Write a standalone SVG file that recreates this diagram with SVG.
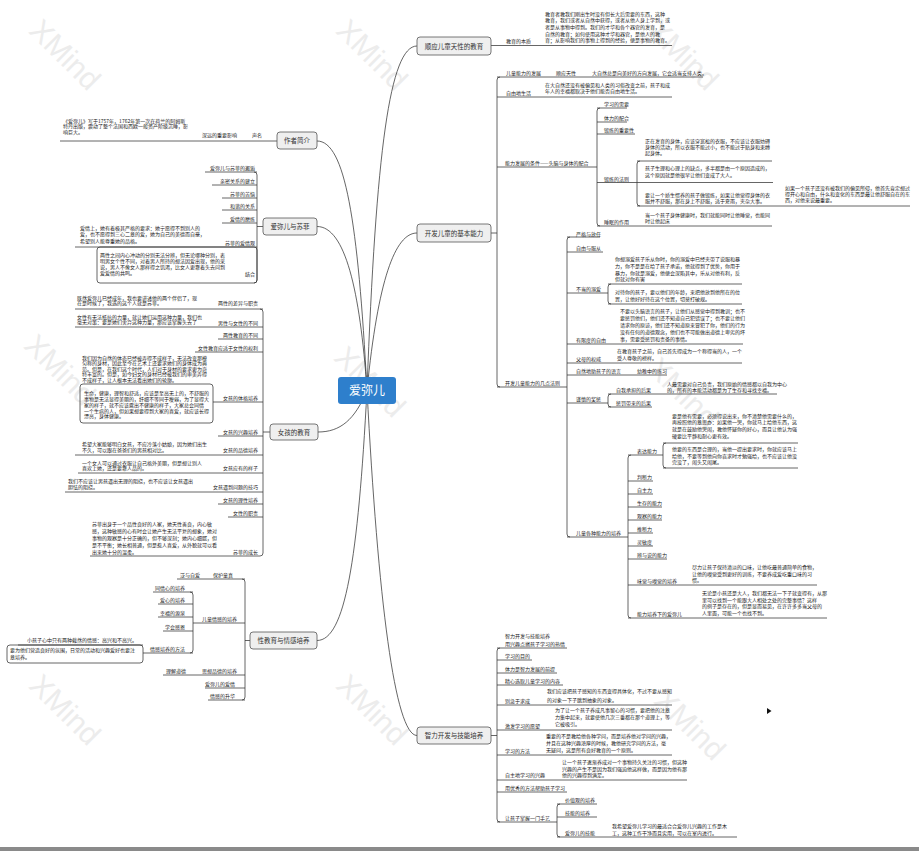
<svg xmlns="http://www.w3.org/2000/svg" width="919" height="851" viewBox="0 0 919 851">
<style>
.s{font-family:"Noto Sans CJK SC","Noto Sans",sans-serif;font-size:5px;fill:#1a1a1a}
.e{text-anchor:end}
.m{font-size:6.5px;fill:#333;text-anchor:middle}
.c{font-size:12px;fill:#fff;text-anchor:middle}
.k{fill:none;stroke:#333;stroke-width:.75}
.b{fill:#efefef;stroke:#555;stroke-width:.8}
.w{font-family:"Liberation Sans",sans-serif;font-size:30px;fill:#ececec}
</style>
<rect width="919" height="851" fill="#fff"/>
<g id="watermark">
<text class="w" transform="translate(65,55) rotate(45)" text-anchor="middle" dy="10">XMind</text>
<text class="w" transform="translate(372,55) rotate(45)" text-anchor="middle" dy="10">XMind</text>
<text class="w" transform="translate(683,55) rotate(45)" text-anchor="middle" dy="10">XMind</text>
<text class="w" transform="translate(60,370) rotate(45)" text-anchor="middle" dy="10">XMind</text>
<text class="w" transform="translate(370,382) rotate(45)" text-anchor="middle" dy="10">XMind</text>
<text class="w" transform="translate(683,393) rotate(45)" text-anchor="middle" dy="10">XMind</text>
<text class="w" transform="translate(65,710) rotate(45)" text-anchor="middle" dy="10">XMind</text>
<text class="w" transform="translate(372,710) rotate(45)" text-anchor="middle" dy="10">XMind</text>
<text class="w" transform="translate(690,725) rotate(45)" text-anchor="middle" dy="10">XMind</text>
</g>
<g id="connectors" class="k">
<path d="M367,390 C358,220 345,141 317,141"/>
<path d="M367,390 C360,290 345,226.5 317,226.5"/>
<path d="M367,390 C355,420 340,432 318,432"/>
<path d="M367,390 C358,560 345,640.5 317,640.5"/>
<path d="M367,390 C376,150 390,46 417,46"/>
<path d="M367,390 C378,280 395,233 417,233"/>
<path d="M367,390 C378,600 395,735.5 417,735.5"/>
<path d="M277,141 L60,141"/>
<path d="M263,226.5 L257,226.5"/>
<path d="M254,172 Q257,172 257,175 L257,280 Q257,283 254,283"/>
<path d="M205,172 L257,172 M212,185 L257,185 M222,198 L257,198 M222,210 L257,210 M222,223 L257,223 M75,247 L257,247"/>
<rect x="97" y="247" width="160" height="36" rx="3"/>
<path d="M270,432 L263,432"/>
<path d="M260,309 Q263,309 263,312 L263,553 Q263,556 260,556"/>
<path d="M75,309 L263,309 M75,327 L263,327 M218,339 L263,339 M195,352 L263,352 M213,402 L263,402 M218,436 L263,436 M75,455 L263,455 M78,473 L263,473 M65,492 L263,492 M218,504 L263,504 M228,517 L263,517 M90,556 L260,556"/>
<rect x="80" y="384" width="133" height="39" rx="3"/>
<path d="M250,640.5 L245,640.5"/>
<path d="M242,579 Q245,579 245,582 L245,697 Q245,700 242,700"/>
<path d="M177,579 L245,579 M193,623 L245,623 M163,675 L245,675 M205,688 L245,688 M208,700 L245,700"/>
<path d="M190,592 Q193,592 193,595 L193,650 Q193,653 190,653"/>
<path d="M153,592 L193,592 M158,604 L193,604 M158,617 L193,617 M163,631 L193,631 M143,653 L193,653"/>
<path d="M18,645 L143,645"/>
<rect x="7" y="645" width="136" height="18" rx="3"/>
<path d="M491,45.5 L672,45.5"/>
<path d="M491,233 L497,233"/>
<path d="M500,77 Q497,77 497,80 L497,384 Q497,387 500,387"/>
<path d="M497,77 L703,77 M497,97 L672,97 M497,167 L597,167 M497,387 L567,387"/>
<path d="M600,108 Q597,108 597,111 L597,223 Q597,226 600,226"/>
<path d="M597,108 L627,108 M597,122 L627,122 M597,134 L635,134 M597,182.5 L637,182.5 M597,226 L772,226"/>
<path d="M640,161 Q637,161 637,164 L637,203 Q637,206 640,206"/>
<path d="M637,161 L772,161 M637,182.5 L773,182.5 M637,206 L910,206"/>
<path d="M570,237 Q567,237 567,240 L567,534 Q567,537 570,537"/>
<path d="M567,237 L600,237 M567,252 L603,252 M567,293 L608,293 M567,344 L743,344 M567,363 L742,363 M567,375 L667,375 M567,403 L608,403 M567,537 L628,537"/>
<path d="M611,284 Q608,284 608,287 L608,301 Q608,304 611,304"/>
<path d="M608,284 L742,284 M608,304 L742,304"/>
<path d="M611,394 Q608,394 608,397 L608,404 Q608,407 611,407"/>
<path d="M608,394 L777,394 M608,407 L652,407"/>
<path d="M631,455 Q628,455 628,458 L628,615 Q628,618 631,618"/>
<path d="M628,455 L663,455 M628,481 L653,481 M628,494 L653,494 M628,507 L662,507 M628,520 L662,520 M628,533 L653,533 M628,546 L653,546 M628,559 L667,559 M628,585 L817,585 M628,618 L827,618"/>
<path d="M666,443 Q663,443 663,446 L663,465 Q663,468 666,468"/>
<path d="M663,443 L798,443 M663,468 L798,468"/>
<path d="M491,735.5 L497,735.5"/>
<path d="M500,648 Q497,648 497,651 L497,819 Q497,822 500,822"/>
<path d="M497,648 L567,648 M497,660 L532,660 M497,673 L557,673 M497,685 L563,685 M497,705 L672,705 M497,730 L672,730 M497,755 L672,755 M497,780 L687,780 M497,792 L567,792 M497,822 L557,822"/>
<path d="M560,804 Q557,804 557,807 L557,834 Q557,837 560,837"/>
<path d="M557,804 L597,804 M557,817 L597,817 M557,837 L737,837"/>
</g>
<g id="n-center"><rect x="338" y="377" width="58" height="27" rx="3" fill="#2e7fcc"/><text class="s c" x="367" y="395">爱弥儿</text></g>
<g id="n-author"><rect class="b" x="277" y="132" width="40" height="17" rx="3"/><text class="s m" x="297" y="143">作者简介</text></g>
<g id="n-author-1"><text class="s" x="252" y="137">声名</text></g>
<g id="n-author-2"><text class="s" x="202" y="137">深远的重要影响</text></g>
<g id="n-author-3"><text class="s"><tspan x="63" y="122.5">《爱弥儿》写于1757年，1762年第一次在荷兰的阿姆斯</tspan><tspan x="63" y="128">特丹出版，震动了整个法国和西欧一般资产阶级沉睡，影</tspan><tspan x="63" y="133.5">响巨大。</tspan></text></g>
<g id="n-sophie"><rect class="b" x="263" y="218" width="54" height="17" rx="3"/><text class="s m" x="290" y="229">爱弥儿与苏菲</text></g>
<g id="n-sophie-1"><text class="s e" x="255" y="170">爱弥儿与苏菲的邂逅</text></g>
<g id="n-sophie-2"><text class="s e" x="255" y="183">亲密关系的建立</text></g>
<g id="n-sophie-3"><text class="s e" x="255" y="196">苏菲的苦恼</text></g>
<g id="n-sophie-4"><text class="s e" x="255" y="208">和谐的关系</text></g>
<g id="n-sophie-5"><text class="s e" x="255" y="221">爱情的磨炼</text></g>
<g id="n-sophie-6"><text class="s e" x="255" y="245">苏菲的爱情观</text></g>
<g id="n-sophie-6a"><text class="s"><tspan x="80" y="230">爱情上，她有着极其严格的要求：她宁愿得不到别人的</tspan><tspan x="80" y="236.3">爱，也不愿得到三心二意的爱，她为自己的美德而自豪，</tspan><tspan x="80" y="242.6">希望别人能尊重她的品格。</tspan></text></g>
<g id="n-sophie-7"><text class="s e" x="255" y="276">结合</text></g>
<g id="n-sophie-7a"><text class="s"><tspan x="100" y="256.7">两性之间内心冲动的分别无法分辨，但无论哪种分别，表</tspan><tspan x="100" y="262.7">明男女个性不同，对着男人所持的想法因爱出现，他的采</tspan><tspan x="100" y="269">说，男人不像女人那样得之饥渴，比女人更靠着头去问到</tspan><tspan x="100" y="275">爱爱情的共鸣。</tspan></text></g>
<g id="n-girl"><rect class="b" x="270" y="424" width="48" height="16" rx="3"/><text class="s m" x="294" y="434.5">女孩的教育</text></g>
<g id="n-girl-1"><text class="s e" x="258" y="305">两性的差异与职责</text></g>
<g id="n-girl-1a"><text class="s"><tspan x="77" y="299.5">既然爱弥儿已经成年，我也要讲述他的两个伴侣了，现</tspan><tspan x="77" y="305">在是时候了，我选的这个人就是苏菲。</tspan></text></g>
<g id="n-girl-2"><text class="s e" x="258" y="324.5">男性与女性的不同</text></g>
<g id="n-girl-2a"><text class="s"><tspan x="77" y="318.5">女性有无法抵抗的力量，就让她们运用这种力量，我们也</tspan><tspan x="77" y="324">毫无对策：要是她们舍弃这种力量，那应该掌握头去了</tspan></text></g>
<g id="n-girl-3"><text class="s e" x="258" y="337">两性教育的不同</text></g>
<g id="n-girl-4"><text class="s e" x="258" y="349.5">女性教育应适于女性的权利</text></g>
<g id="n-girl-5"><text class="s e" x="258" y="400">女孩的体格培养</text></g>
<g id="n-girl-5a"><text class="s"><tspan x="82" y="359.5">我们因为自然的体态已经被弄得不成样子，无法改变那模</tspan><tspan x="82" y="365">匀称的身材，因此至今在艺术上还要求她们的身体成为典</tspan><tspan x="82" y="370.7">范。但是，在我们这个时代，人们对于身材的要求更为奇</tspan><tspan x="82" y="376">特丰富的。但是，如今妇女的身材已经被我们的审美弄得</tspan><tspan x="82" y="382">不成样子，让人根本无法看出她们的轮廓。</tspan></text></g>
<g id="n-girl-5b"><text class="s"><tspan x="84" y="395">生命，健康，理智和舒适，应该是至高无上的，不舒服的</tspan><tspan x="84" y="400.7">事物是无法显得美丽的，纤细不等同于瘦弱，为了显得大</tspan><tspan x="84" y="406.7">家的样子，就不应该露出不健康的样子，大家总会同情</tspan><tspan x="84" y="412.7">一个生病的人，但如果想要得到大家的喜爱，就应该长得</tspan><tspan x="84" y="418.4">漂亮，身体健康。</tspan></text></g>
<g id="n-girl-6"><text class="s e" x="258" y="433.5">女孩的兴趣培养</text></g>
<g id="n-girl-7"><text class="s e" x="258" y="452">女孩的品德培养</text></g>
<g id="n-girl-7a"><text class="s"><tspan x="82" y="446">希望大家能够明白女孩，不应冷落小姑娘，因为她们出生</tspan><tspan x="82" y="452">不久，可以跟在爸爸们的男孩相对比。</tspan></text></g>
<g id="n-girl-8"><text class="s e" x="258" y="470">女孩应有的样子</text></g>
<g id="n-girl-8a"><text class="s"><tspan x="82" y="464.5">一个女人可以通过衣服让自己格外美丽，但是想让别人</tspan><tspan x="82" y="470">喜欢上她，还是要靠人品的。</tspan></text></g>
<g id="n-girl-9"><text class="s e" x="258" y="489">女孩遇到问题的技巧</text></g>
<g id="n-girl-9a"><text class="s"><tspan x="68" y="482.7">我们不应该让男孩遇出无理的阻挠，也不应该让女孩遇出</tspan><tspan x="68" y="488.5">胆怯的阻挠。</tspan></text></g>
<g id="n-girl-10"><text class="s e" x="258" y="502">女孩的理性培养</text></g>
<g id="n-girl-11"><text class="s e" x="258" y="514.5">女性的职责</text></g>
<g id="n-girl-12"><text class="s e" x="258" y="553.5">苏菲的成长</text></g>
<g id="n-girl-12a"><text class="s"><tspan x="92" y="525.7">苏菲出身于一个品性良好的人家，她天性善良，内心敏</tspan><tspan x="92" y="532.7">感，这种敏感的心有时会让她产生无法平复的想象，她对</tspan><tspan x="92" y="539.7">事物的观察是十分正确的，但不够深刻；她内心细腻，但</tspan><tspan x="92" y="546.7">是不平衡；她长相普通，但是惹人喜爱，从外貌就可以看</tspan><tspan x="92" y="553.5">出来她十分的温柔。</tspan></text></g>
<g id="n-sex"><rect class="b" x="250" y="632" width="67" height="17" rx="3"/><text class="s m" x="283.5" y="643">性教育与情感培养</text></g>
<g id="n-sex-1"><text class="s e" x="233" y="576.5">保护童真</text></g>
<g id="n-sex-1a"><text class="s" x="180" y="576.5">泛与自爱</text></g>
<g id="n-sex-2"><text class="s e" x="237" y="620.5">儿童情感的培养</text></g>
<g id="n-sex-2a"><text class="s e" x="185" y="589.5">同情心的培养</text></g>
<g id="n-sex-2b"><text class="s e" x="185" y="601.7">爱心的培养</text></g>
<g id="n-sex-2c"><text class="s e" x="185" y="614.7">幸福的源泉</text></g>
<g id="n-sex-2d"><text class="s e" x="185" y="628.5">学会感恩</text></g>
<g id="n-sex-2e"><text class="s e" x="185" y="650.5">情感培养的方法</text></g>
<g id="n-sex-2e1"><text class="s" x="27" y="641.5">小孩子心中只有两种截然的情感：高兴和不高兴。</text></g>
<g id="n-sex-2e2"><text class="s"><tspan x="10" y="652.4">要为他们营造良好的氛围，日常的活动和兴趣爱好也要注</tspan><tspan x="10" y="659">意培养。</tspan></text></g>
<g id="n-sex-3"><text class="s e" x="237" y="672.5">思想品德的培养</text></g>
<g id="n-sex-3a"><text class="s" x="166" y="672.5">理解道德</text></g>
<g id="n-sex-4"><text class="s e" x="235" y="685.5">爱弥儿的爱情</text></g>
<g id="n-sex-5"><text class="s e" x="235" y="697.5">情感的升华</text></g>
<g id="n-nature"><rect class="b" x="417" y="37" width="74" height="18" rx="3"/><text class="s m" x="454" y="48.5">顺应儿童天性的教育</text></g>
<g id="n-nature-1"><text class="s" x="506" y="43">教育的本质</text></g>
<g id="n-nature-1a"><text class="s"><tspan x="545" y="15.7">教育者教我们刚出生时没有但长大后需要的东西，这种</tspan><tspan x="545" y="22.4">教育，我们或者从自然中获得，或者从他人身上学到，或</tspan><tspan x="545" y="29">者是从事物中得到。我们的才华和各个器官的发育，是</tspan><tspan x="545" y="35.7">自然的教育；如何使用这种才华和器官，是他人的教</tspan><tspan x="545" y="42.4">育；从影响我们的事物上得到的经验，便是事物的教育。</tspan></text></g>
<g id="n-ability"><rect class="b" x="417" y="224" width="74" height="18" rx="3"/><text class="s m" x="454" y="235.5">开发儿童的基本能力</text></g>
<g id="n-ab-1"><text class="s" x="506" y="75">儿童能力的发展</text></g>
<g id="n-ab-1a"><text class="s" x="556" y="75">顺应天性</text></g>
<g id="n-ab-1b"><text class="s" x="592" y="75">大自然总是向美好的方向发展，它会适当安排人类。</text></g>
<g id="n-ab-2"><text class="s" x="506" y="94.5">自由地生活</text></g>
<g id="n-ab-2a"><text class="s"><tspan x="545" y="86.7">在大自然还没有被偏见和人类的习俗改变之前，孩子和成</tspan><tspan x="545" y="92.7">年人的幸福都取决于他们能否自由地生活。</tspan></text></g>
<g id="n-ab-3"><text class="s" x="505" y="165">能力发展的条件——头脑与身体的配合</text></g>
<g id="n-ab-3a"><text class="s" x="604" y="105.5">学习的需要</text></g>
<g id="n-ab-3b"><text class="s" x="604" y="119.5">体力的配合</text></g>
<g id="n-ab-3c"><text class="s" x="604" y="131.5">锻炼的重要性</text></g>
<g id="n-ab-3d"><text class="s" x="604" y="180.5">锻炼的法则</text></g>
<g id="n-ab-3d1"><text class="s"><tspan x="645" y="143.4">正在发育的身体，应该穿宽松的衣服，不应该让衣服妨碍</tspan><tspan x="645" y="149">身体的活动，所以衣服不能过小，也不能过于贴身和束缚</tspan><tspan x="645" y="155">起身体。</tspan></text></g>
<g id="n-ab-3d2"><text class="s"><tspan x="645" y="170">孩子生理和心理上的缺点，多半都是由一个原因造成的，</tspan><tspan x="645" y="176.7">这个原因就是他很早让他们变成了大人。</tspan></text></g>
<g id="n-ab-3d3"><text class="s"><tspan x="645" y="196.7">要让一个娇生惯养的孩子做锻炼，如果让他觉得身体的衣</tspan><tspan x="645" y="203.4">服并不舒服，那在身上不舒服，适于夏雨，夹杂大事。</tspan></text></g>
<g id="n-ab-3d4"><text class="s"><tspan x="785" y="190">如果一个孩子还没有被我们的偏见所侵，他首先肯定想过</tspan><tspan x="785" y="196">得开心和自由，什么和变化的东西是最让他舒服自在的东</tspan><tspan x="785" y="202.4">西，对他来说最重要。</tspan></text></g>
<g id="n-ab-3e"><text class="s" x="604" y="223.5">睡眠的作用</text></g>
<g id="n-ab-3e1"><text class="s"><tspan x="645" y="216.7">当一个孩子身体健康时，我们就能同时让他睡觉，也能同</tspan><tspan x="645" y="223.4">时让他起床</tspan></text></g>
<g id="n-ab-4"><text class="s" x="505" y="384.5">开发儿童能力的几点法则</text></g>
<g id="n-ab-4a"><text class="s" x="576" y="235.5">严格与放任</text></g>
<g id="n-ab-4b"><text class="s" x="576" y="249.5">自由与服从</text></g>
<g id="n-ab-4c"><text class="s" x="576" y="290.5">不当的溺爱</text></g>
<g id="n-ab-4c1"><text class="s"><tspan x="615" y="261">你想溺爱孩子乐从你时，你的溺爱中已经夹带了说服和暴</tspan><tspan x="615" y="267.7">力，你不是是在给了孩子承诺，他就得到了优势，你用于</tspan><tspan x="615" y="274.5">暴力，你就是溺爱，他便会深陷其中，乐从对他有利，反</tspan><tspan x="615" y="281.3">但就对你有害</tspan></text></g>
<g id="n-ab-4c2"><text class="s"><tspan x="615" y="294.4">对待你的孩子，要以他们的年龄，来把他放到他所在的位</tspan><tspan x="615" y="301.4">置，让他好好待在这个位置，切莫打破规。</tspan></text></g>
<g id="n-ab-4d"><text class="s" x="576" y="341.5">有限度的自由</text></g>
<g id="n-ab-4d1"><text class="s"><tspan x="620" y="313.4">不要以头脑语言的孩子，让他们从感觉中得到教训；也不</tspan><tspan x="620" y="320">要惩罚他们，他们还不知道自己犯错误了；也不要让他们</tspan><tspan x="620" y="327">请求你的原谅，他们还不知道原来冒犯了你，他们的行为</tspan><tspan x="620" y="334">没有任何的道德观念，他们也不可能做出道德上卑劣的坏</tspan><tspan x="620" y="340.7">事，需要受惩罚和责备的事情。</tspan></text></g>
<g id="n-ab-4e"><text class="s" x="576" y="360.5">父母的权威</text></g>
<g id="n-ab-4e1"><text class="s"><tspan x="617" y="353.4">在教育孩子之前，自己首先得成为一个称得当的人，一个</tspan><tspan x="617" y="360">受人尊敬的榜样。</tspan></text></g>
<g id="n-ab-4f"><text class="s" x="576" y="373">自然地助孩子的语言</text></g>
<g id="n-ab-4f1"><text class="s" x="637" y="373">幼稚中的练习</text></g>
<g id="n-ab-4g"><text class="s" x="576" y="400.5">谨慎的奖惩</text></g>
<g id="n-ab-4g1"><text class="s" x="616" y="392">自我承担的后果</text></g>
<g id="n-ab-4g1a"><text class="s"><tspan x="667" y="385.7">人最需要对自己负责，我们原始的情感都以自我为中心</tspan><tspan x="667" y="392.2">的，所有的本能活动都是为了生存和寻找幸福。</tspan></text></g>
<g id="n-ab-4g2"><text class="s" x="616" y="405">惩罚带来的后果</text></g>
<g id="n-ab-4h"><text class="s" x="576" y="534.5">儿童各种能力的培养</text></g>
<g id="n-ab-4h1"><text class="s" x="637" y="453">表达能力</text></g>
<g id="n-ab-4h1a"><text class="s"><tspan x="672" y="417.7">要是他有需要，必须得说出来，你不清楚他需要什么的，</tspan><tspan x="672" y="424.4">再按照他的意思办：如果他一哭，你就马上给他东西，这</tspan><tspan x="672" y="431">就是在鼓励他哭闹，教他怀疑你的好心，而且让他认为强</tspan><tspan x="672" y="437.7">硬要比平静和耐心更有效。</tspan></text></g>
<g id="n-ab-4h1b"><text class="s"><tspan x="672" y="451">他要的东西是合理的，当他一提出要求时，你就应该马上</tspan><tspan x="672" y="457.7">给他，不要等到他向你哀求时才勉强给，也不应该让他没</tspan><tspan x="672" y="464.4">完没了，闹头又闹尾。</tspan></text></g>
<g id="n-ab-4h2"><text class="s" x="637" y="479">判断力</text></g>
<g id="n-ab-4h3"><text class="s" x="637" y="492">自主力</text></g>
<g id="n-ab-4h4"><text class="s" x="637" y="505">生存的能力</text></g>
<g id="n-ab-4h5"><text class="s" x="637" y="518">观察的能力</text></g>
<g id="n-ab-4h6"><text class="s" x="637" y="531">推断力</text></g>
<g id="n-ab-4h7"><text class="s" x="637" y="544">灵敏度</text></g>
<g id="n-ab-4h8"><text class="s" x="637" y="557">辨与说的能力</text></g>
<g id="n-ab-4h9"><text class="s" x="637" y="583">味觉与嗅觉的培养</text></g>
<g id="n-ab-4h9a"><text class="s"><tspan x="692" y="569">尽力让孩子保持清淡的口味，让他吃最普通简单的食物，</tspan><tspan x="692" y="575.7">让他的嗅觉受到更好的训练，不要养成爱吃重口味的习</tspan><tspan x="692" y="582.4">惯。</tspan></text></g>
<g id="n-ab-4h10"><text class="s" x="637" y="616">能力培养下的爱弥儿</text></g>
<g id="n-ab-4h10a"><text class="s"><tspan x="702" y="595">无论是小孩还是大人，我们都无法一下子就变得有，从那</tspan><tspan x="702" y="601.7">里可以找到一个能跟大人相处之处的完整事情？这样</tspan><tspan x="702" y="608.4">的例子是存在的，但是显而易见，在许许多多当父母的</tspan><tspan x="702" y="615">人里面，可能一个也找不到。</tspan></text></g>
<g id="n-intel"><rect class="b" x="417" y="727" width="74" height="17" rx="3"/><text class="s m" x="454" y="738">智力开发与技能培养</text></g>
<g id="n-in-1"><text class="s"><tspan x="505" y="638">智力开发与技能培养</tspan><tspan x="505" y="646">用兴趣点燃孩子学习的热情</tspan></text></g>
<g id="n-in-2"><text class="s" x="505" y="658">学习的目的</text></g>
<g id="n-in-3"><text class="s" x="505" y="671">体力是智力发展的前提</text></g>
<g id="n-in-4"><text class="s" x="505" y="683">精心选取儿童学习的内容</text></g>
<g id="n-in-5"><text class="s" x="505" y="702.5">别急于求成</text></g>
<g id="n-in-5a"><text class="s"><tspan x="547" y="693.4">我们应该把孩子感知的东西变得具体化，不过不要从感知</tspan><tspan x="547" y="701.7">的对象一下子跳到抽象的对象。</tspan></text></g>
<g id="n-in-6"><text class="s" x="505" y="727.5">激发学习的愿望</text></g>
<g id="n-in-6a"><text class="s"><tspan x="555" y="711.7">为了让一个孩子养成凡事留心的习惯，要把他的注意</tspan><tspan x="555" y="719">力集中起来，就要使他几次三番都在那个道理上，等</tspan><tspan x="555" y="726">它被吸引。</tspan></text></g>
<g id="n-in-7"><text class="s" x="505" y="752.5">学习的方法</text></g>
<g id="n-in-7a"><text class="s"><tspan x="546" y="738.4">重要的不是教给他各种学问，而是培养他对学问的兴趣，</tspan><tspan x="546" y="745">并且在这种兴趣浓厚的时候，教他研究学问的方法，毫</tspan><tspan x="546" y="751.7">无疑问，这是所有良好教育的一个原则。</tspan></text></g>
<g id="n-in-8"><text class="s" x="505" y="777">自主地学习的兴趣</text></g>
<g id="n-in-8a"><text class="s"><tspan x="562" y="764">让一个孩子逐渐养成对一个事物持久关注的习惯，但这种</tspan><tspan x="562" y="770.7">兴趣的产生不是因为我们强迫他这样做，而是因为他有那</tspan><tspan x="562" y="777.4">他的兴趣得到满足。</tspan></text></g>
<g id="n-in-9"><text class="s" x="505" y="789.5">用优秀的方法帮助孩子学习</text></g>
<g id="n-in-10"><text class="s" x="505" y="819.5">让孩子掌握一门手艺</text></g>
<g id="n-in-10a"><text class="s" x="565" y="802">价值观的培养</text></g>
<g id="n-in-10b"><text class="s" x="565" y="815">技能的培养</text></g>
<g id="n-in-10c"><text class="s" x="565" y="835">爱弥儿的技能</text></g>
<g id="n-in-10c1"><text class="s"><tspan x="612" y="828.4">我希望爱弥儿学习的最适合合爱弥儿兴趣的工作是木</tspan><tspan x="612" y="835">工，这种工作干净而且实用，可以在室内进行。</tspan></text></g>
<path d="M767,708 L771.5,711 L767,714 Z" fill="#111"/>
<rect x="0" y="847" width="919" height="4" fill="#8a8a8a"/>
</svg>
